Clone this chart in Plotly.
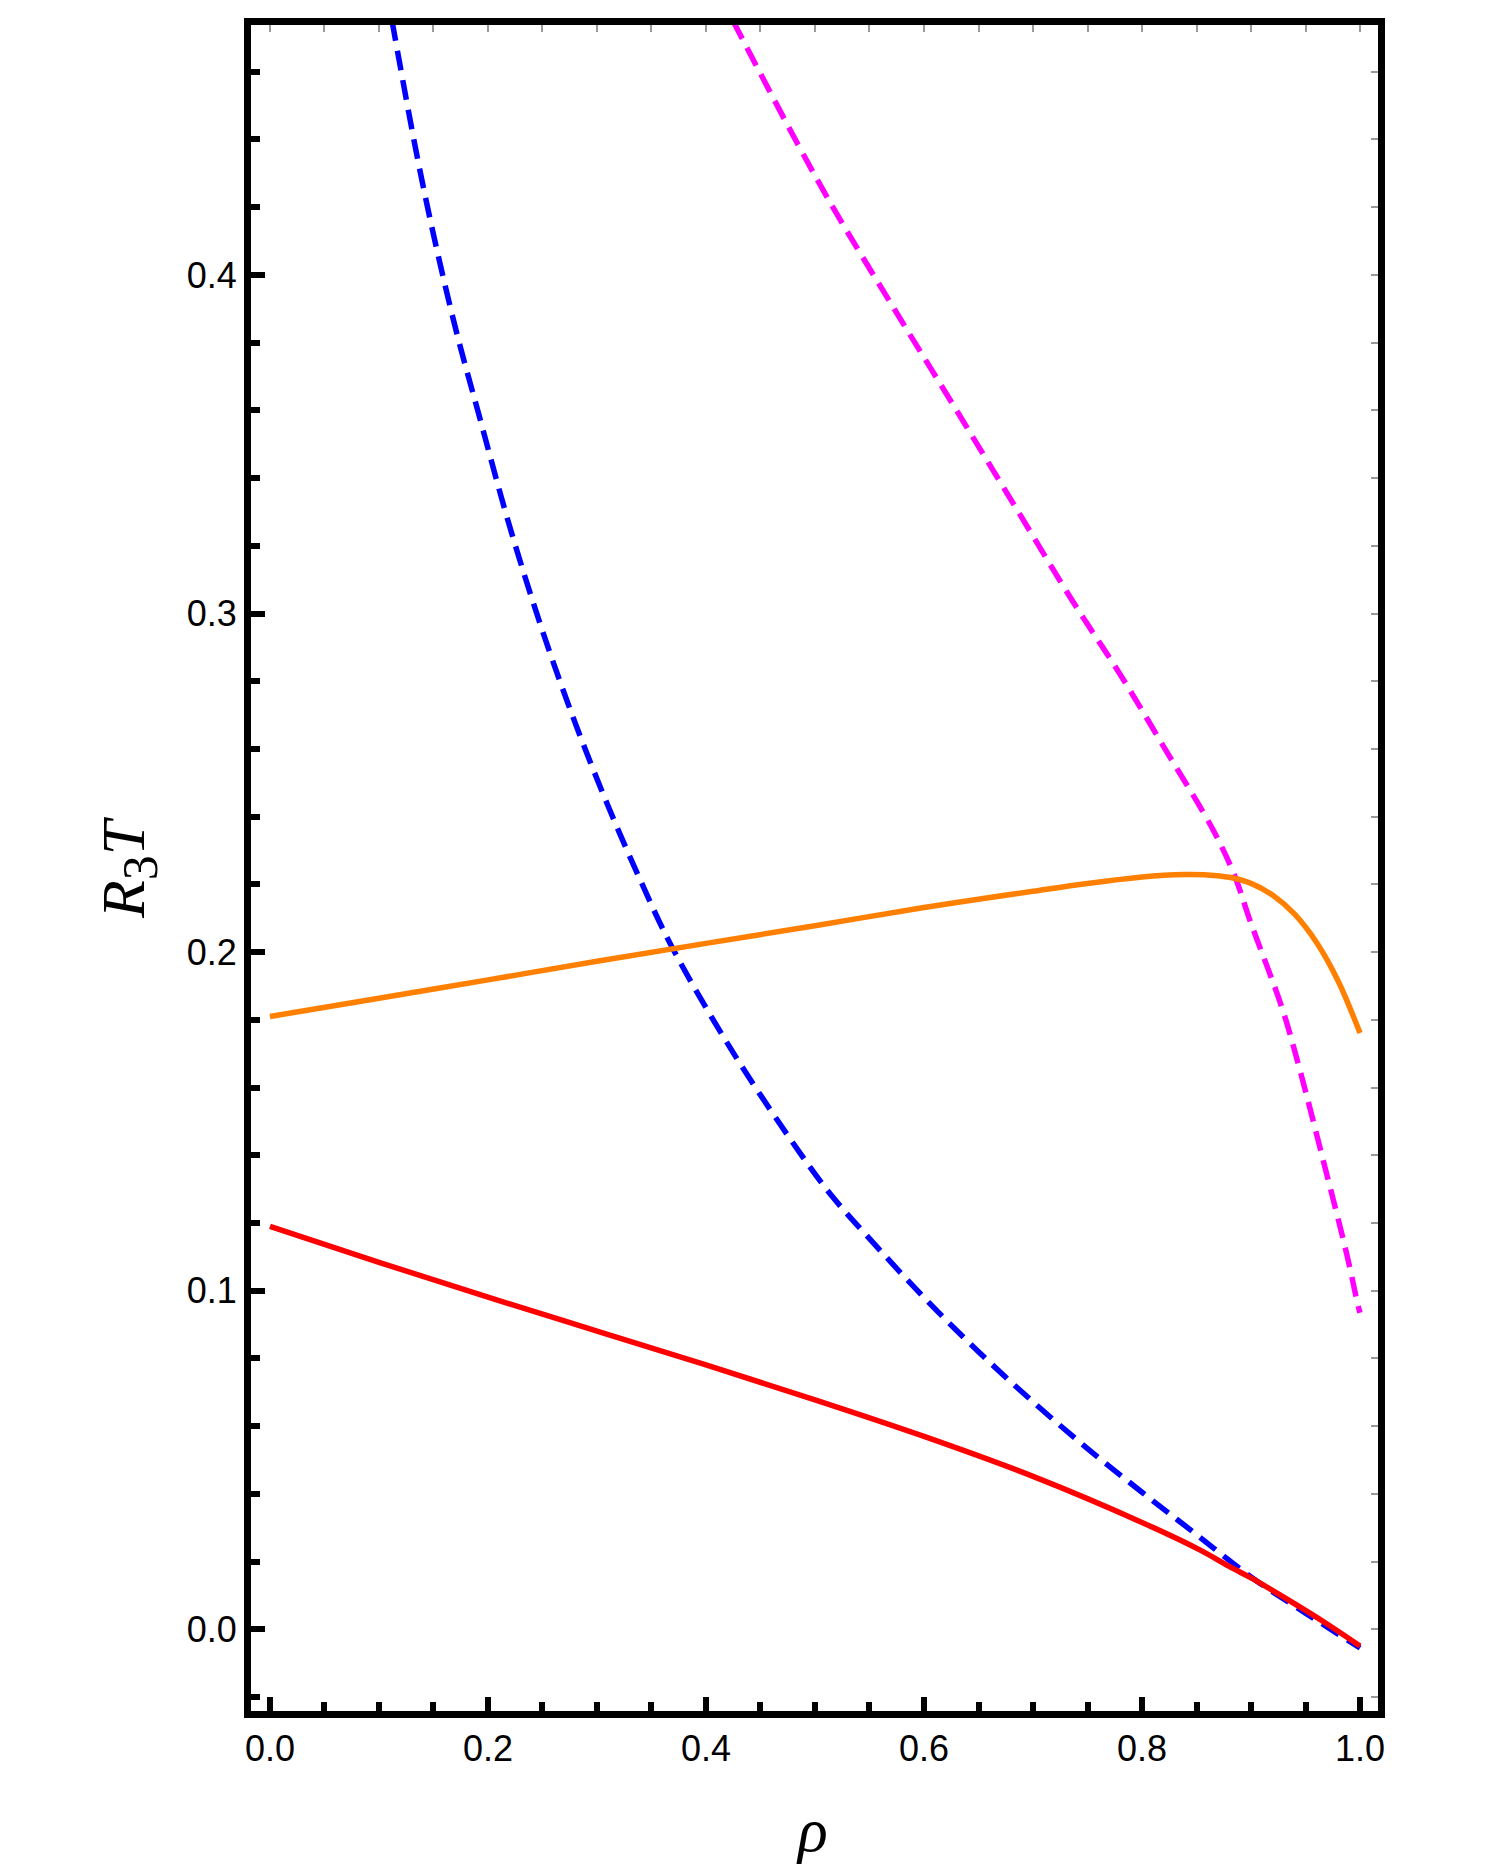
import plotly.graph_objects as go

# values (rho, R3T)
red_x = [0.0, 0.1, 0.2, 0.3, 0.4, 0.5, 0.6, 0.7, 0.8, 0.853, 0.88, 0.9, 0.915, 0.95, 0.975, 1.0]
red_y = [0.119, 0.1084, 0.0981, 0.0881, 0.0781, 0.0678, 0.057, 0.0452, 0.0316, 0.0235, 0.0186, 0.0152, 0.0124, 0.0056, 0.0005, -0.0049]

orange_x = [0.0, 0.1, 0.2, 0.3, 0.4, 0.5, 0.6, 0.7, 0.75, 0.8, 0.82, 0.84, 0.86, 0.88, 0.9, 0.92, 0.94, 0.96, 0.98, 1.0]
orange_y = [0.181, 0.1864, 0.1918, 0.1973, 0.2026, 0.2078, 0.2132, 0.218, 0.2203, 0.2222, 0.2227, 0.2229, 0.2228, 0.2221,
            0.2203, 0.2168, 0.2112, 0.2029, 0.1914, 0.1761]

blue_x = [0.112, 0.135, 0.153, 0.172, 0.191, 0.22, 0.25, 0.28, 0.31, 0.34, 0.3685, 0.4248, 0.486, 0.5165,
          0.55, 0.6, 0.65, 0.7, 0.75, 0.8, 0.85, 0.9, 0.95, 1.0]
blue_y = [0.475, 0.435, 0.4076, 0.382, 0.3595, 0.3256, 0.2949, 0.2677, 0.2433, 0.2211, 0.2017, 0.1704, 0.1408, 0.1276,
          0.1154, 0.098, 0.082, 0.0672, 0.0534, 0.0405, 0.028, 0.0155, 0.0048, -0.0055]

magenta_x = [0.4248, 0.4844, 0.52, 0.5726, 0.6264, 0.68, 0.7357, 0.78, 0.823, 0.8654, 0.8853, 0.899, 0.929, 0.945,
             0.966, 0.988, 0.998, 1.0]
magenta_y = [0.475, 0.4385, 0.418, 0.390, 0.3618, 0.3335, 0.304, 0.282, 0.259, 0.236, 0.2223, 0.2094, 0.183, 0.165,
             0.1388, 0.1106, 0.0959, 0.0935]

x_range = [-0.0174, 1.0165]
y_range = [-0.0241, 0.4738]

fig = go.Figure()
fig.add_trace(go.Scatter(x=blue_x, y=blue_y, mode="lines", line=dict(color="#0000ff", width=5.5, dash="20px,10px", shape="spline")))
fig.add_trace(go.Scatter(x=magenta_x, y=magenta_y, mode="lines", line=dict(color="#ff00ff", width=5.5, dash="20px,10px", shape="spline")))
fig.add_trace(go.Scatter(x=orange_x, y=orange_y, mode="lines", line=dict(color="#ff8000", width=5.5, shape="spline")))
fig.add_trace(go.Scatter(x=red_x, y=red_y, mode="lines", line=dict(color="#ff0000", width=5.5, shape="spline")))
# empty trace so the top/right tick axes get drawn
fig.add_trace(go.Scatter(x=[None], y=[None], xaxis="x2", yaxis="y2", hoverinfo="skip"))

tickfont = dict(family="Liberation Sans, Arial", size=36, color="black")

# page body has an 8px margin, so the figure is 8px smaller than the window
fig.update_layout(
    width=1487, height=1860,
    margin=dict(l=243, r=117, t=10, b=157),
    plot_bgcolor="white", paper_bgcolor="white",
    showlegend=False,
    xaxis=dict(range=x_range, tickmode="linear", tick0=0, dtick=0.2, tickformat=".1f",
               ticks="inside", ticklen=14, tickwidth=6, tickcolor="black",
               minor=dict(tickmode="linear", tick0=0, dtick=0.05, ticks="inside", ticklen=9, tickwidth=6, tickcolor="black"),
               showline=True, linewidth=7, linecolor="black", mirror=True,
               showgrid=False, zeroline=False, tickfont=tickfont),
    yaxis=dict(range=y_range, tickmode="linear", tick0=0, dtick=0.1, tickformat=".1f",
               ticks="inside", ticklen=14, tickwidth=6, tickcolor="black",
               minor=dict(tickmode="linear", tick0=0, dtick=0.02, ticks="inside", ticklen=9, tickwidth=6, tickcolor="black"),
               showline=True, linewidth=7, linecolor="black", mirror=True,
               showgrid=False, zeroline=False, tickfont=tickfont),
    xaxis2=dict(range=x_range, overlaying="x", side="top", anchor="y2", tickmode="linear", tick0=0, dtick=0.05,
                ticks="inside", ticklen=7, tickwidth=1.5, tickcolor="#999999", showticklabels=False,
                showline=False, showgrid=False, zeroline=False),
    yaxis2=dict(range=y_range, overlaying="y", side="right", anchor="x2", tickmode="linear", tick0=0, dtick=0.02,
                ticks="inside", ticklen=7, tickwidth=1.5, tickcolor="#999999", showticklabels=False,
                showline=False, showgrid=False, zeroline=False),
)

titlefont = dict(family="Liberation Serif, Times New Roman", size=62, color="black")
fig.add_annotation(text="<i>ρ</i>", xref="paper", yref="paper", x=0.498, y=0, yanchor="middle",
                   yshift=-119, showarrow=False, font=titlefont)
fig.add_annotation(text="<i>R</i><sub><span style='font-size:50px'>3</span></sub><i>T</i>", xref="paper", yref="paper",
                   x=0, y=0.5, xanchor="center", yanchor="middle", xshift=-123, textangle=-90,
                   showarrow=False, font=titlefont)

fig.write_html("out.html")
